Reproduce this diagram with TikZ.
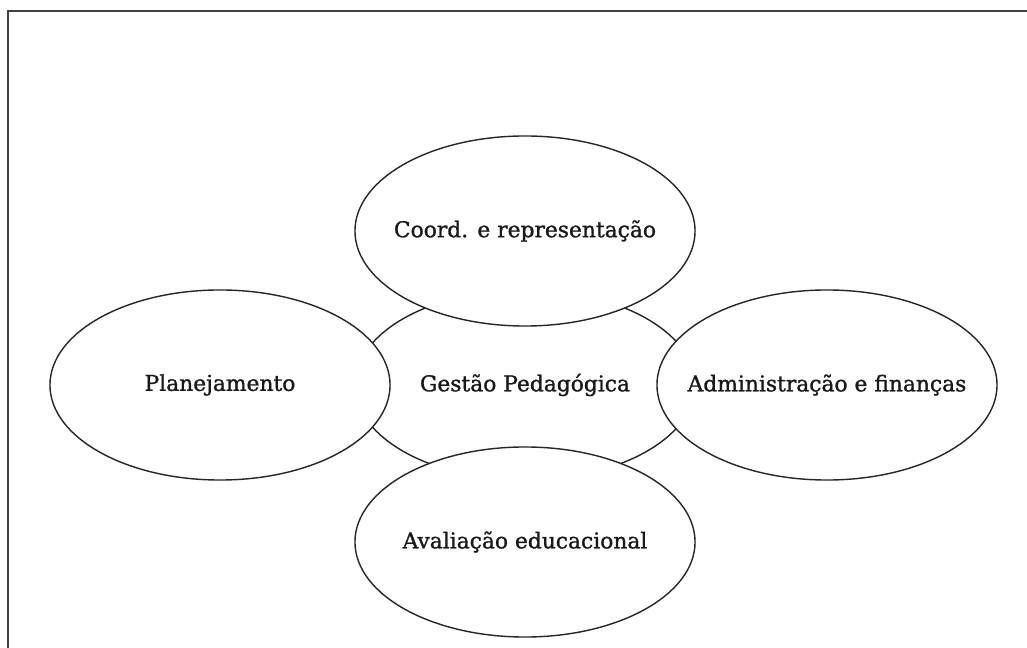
\documentclass[tikz,border=0pt]{standalone}
\usepackage{fontspec}
\setmainfont[FakeBold=1.2]{DejaVu Serif}
\usetikzlibrary{shapes.geometric}

\tikzset{
  area/.style={ellipse, draw, line width=1pt, draw=black!85, fill=white,
    minimum width=8.5cm, minimum height=4.75cm, inner xsep=-1.5cm, inner ysep=0pt},
}

\begin{document}
\begin{tikzpicture}[x=0.025cm,y=-0.025cm]
\tikzstyle{every node}=[font=\fontsize{15.5}{18}\selectfont, text=black!90]

% fix the page size
\useasboundingbox (0,0) rectangle (1027,648);

% frame, cut off at the right and at the bottom
\draw [line width=1.4pt, black!75] (8,648) -- (8,11) -- (1027,11);

% centre ellipse, behind the others
\node [area] (gestao) at (525,385) {Gestão Pedagógica};

% the four ellipses round it
\node [area] (coord) at (525,231) {Coord. e representação};
\node [area] (aval) at (525,542) {Avaliação educacional};
\node [area] (plan) at (220,385) {Planejamento};
\node [area] (admin) at (827,385) {Administração e finanças};

\end{tikzpicture}
\end{document}
